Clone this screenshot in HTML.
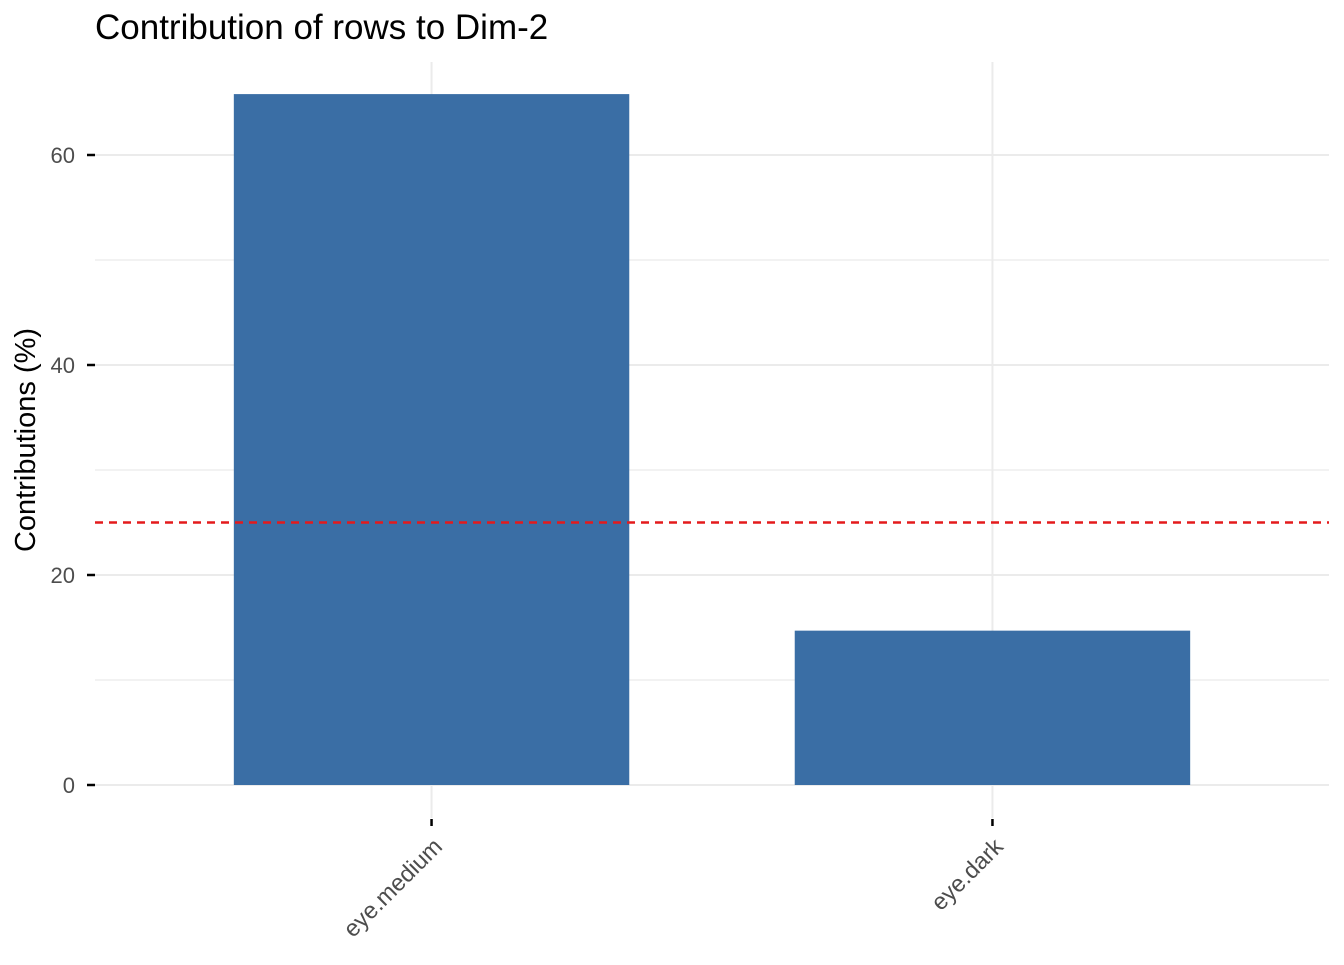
<!DOCTYPE html>
<html><head><meta charset="utf-8"><style>
body{margin:0;background:#fff}
svg text{font-family:"Liberation Sans",sans-serif}
</style></head><body>
<svg id="chart" width="1344" height="960" xmlns="http://www.w3.org/2000/svg">
<text x="95" y="39" font-size="35" fill="#000">Contribution of rows to Dim-2</text>
<text transform="translate(35,440) rotate(-90)" text-anchor="middle" font-size="29" fill="#000">Contributions (%)</text>
<g id="grid"></g><g id="bars"></g><g id="axes"></g>
</svg>
<script>
const categories=["eye.medium","eye.dark"];
const values=[65.8,14.7];
const yTicks=[0,20,40,60];
const refValue=25;
const svg=document.getElementById('chart');
const NS='http://www.w3.org/2000/svg';
const L=95,R=1329,T=62,B=818;
const y=v=>785-v*10.5;
const band=(R-L)/(categories.length-1+1.2);
const x=i=>L+band*0.6+i*band;
function mk(p,tag,a){const e=document.createElementNS(NS,tag);for(const k in a)e.setAttribute(k,a[k]);p.appendChild(e);return e;}
const grid=document.getElementById('grid'),bars=document.getElementById('bars'),axes=document.getElementById('axes');
for(let v=0;v<=60;v+=10){
 const g=mk(grid,'line',{x1:L,x2:R,y1:y(v),y2:y(v),stroke:'#ebebeb','stroke-width':v%20==0?2:1.2});
 
 
}
categories.forEach((c,i)=>{
 const g=mk(grid,'line',{x1:x(i),x2:x(i),y1:T,y2:B,stroke:'#ebebeb','stroke-width':2});
 
 
 const bw=band*0.705;
 const b=mk(bars,'rect',{x:x(i)-bw/2,y:y(values[i]),width:bw,height:y(0)-y(values[i]),fill:'#3a6ea5'});
 
 
 const t=mk(axes,'line',{x1:x(i),x2:x(i),y1:819,y2:826,stroke:'#000','stroke-width':2.5});
 
 
 const l=mk(axes,'text',{transform:`translate(${x(i)+12},${848}) rotate(-45)`,'text-anchor':'end','font-size':23.5,fill:'#4d4d4d'});
 l.textContent=c;
 
 
});
yTicks.forEach(v=>{
 const t=mk(axes,'line',{x1:87,x2:95,y1:y(v),y2:y(v),stroke:'#000','stroke-width':2.5});
 
 
 const l=mk(axes,'text',{x:75,y:y(v)+8,'text-anchor':'end','font-size':22,fill:'#4d4d4d'});
 l.textContent=v;
 
 
});
const rl=mk(axes,'line',{x1:L,x2:R,y1:y(refValue),y2:y(refValue),stroke:'#e41a1c','stroke-width':2.4,'stroke-dasharray':'8 6'});


</script>
</body></html>
